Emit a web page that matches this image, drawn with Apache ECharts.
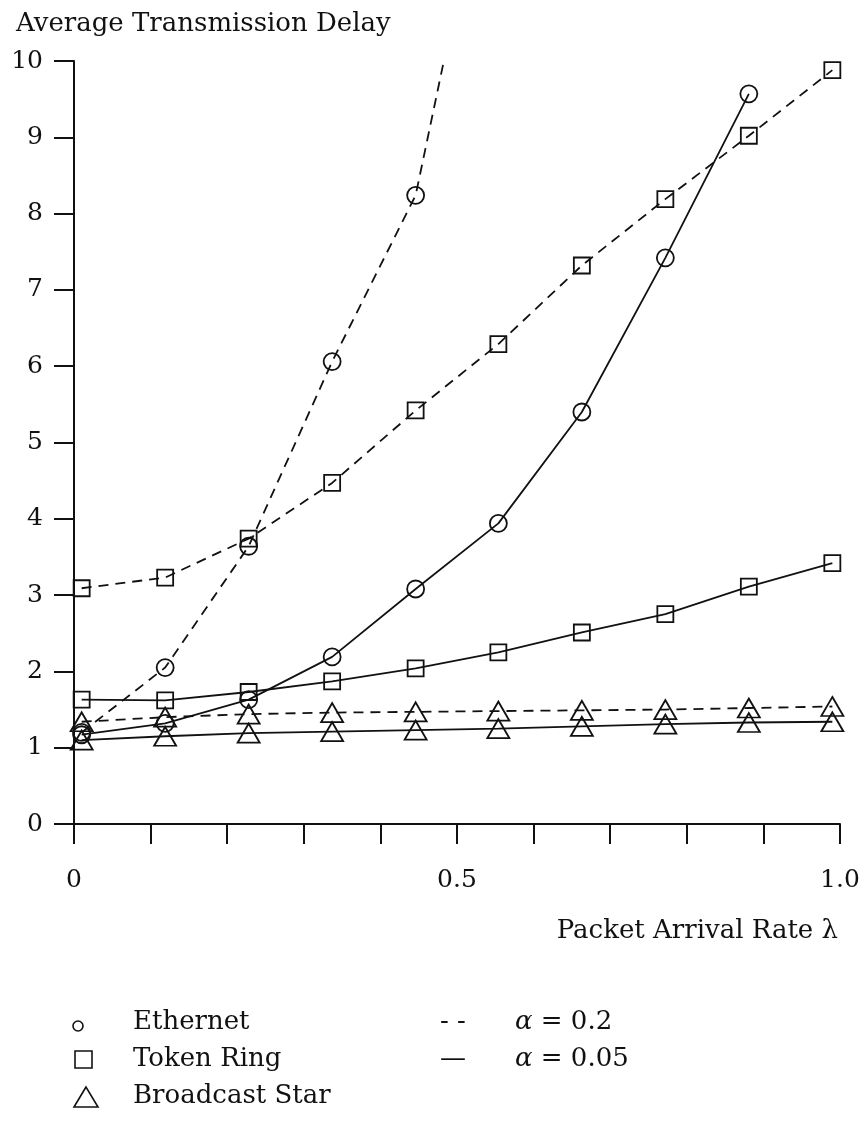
<!DOCTYPE html>
<html>
<head>
<meta charset="utf-8">
<script src="https://cdn.jsdelivr.net/npm/echarts@6/dist/echarts.min.js"></script>
<style>
  html, body { margin: 0; padding: 0; background: #fff; }
  #chart { width: 868px; height: 1121px; }
</style>
</head>
<body>
<div id="chart"></div>
<script>
// packet arrival rate (lambda) at each measured point
var lambdaVals = [0.01, 0.119, 0.228, 0.337, 0.446, 0.554, 0.663, 0.772, 0.881, 0.99];

// average transmission delay, alpha = 0.2 (dashed)
var ethernetA02 = [1.2, 2.05, 3.64, 6.06, 8.24, 13.4];
var tokenRingA02 = [3.09, 3.23, 3.74, 4.47, 5.42, 6.29, 7.32, 8.19, 9.02, 9.88];
var starA02 = [1.34, 1.40, 1.44, 1.46, 1.47, 1.48, 1.49, 1.50, 1.52, 1.54];

// alpha = 0.05 (solid)
var ethernetA005 = [1.17, 1.32, 1.63, 2.19, 3.08, 3.94, 5.40, 7.42, 9.57];
var tokenRingA005 = [1.63, 1.62, 1.73, 1.87, 2.04, 2.25, 2.51, 2.75, 3.11, 3.42];
var starA005 = [1.10, 1.15, 1.19, 1.21, 1.23, 1.25, 1.28, 1.31, 1.33, 1.34];

var xTickLabels = {'0': '0', '0.5': '0.5', '1': '1.0'};

var ink = '#111';
var serif = '"DejaVu Serif", "Liberation Serif", serif';

function pairs(ys) {
    var out = [];
    for (var i = 0; i < ys.length; i++) {
        out.push([lambdaVals[i], ys[i]]);
    }
    return out;
}

function makeSeries(name, ys, symbol, size, dashed) {
    return {
        name: name,
        type: 'line',
        data: pairs(ys),
        symbol: symbol,
        symbolSize: size,
        clip: true,
        itemStyle: { color: 'rgba(0,0,0,0)', borderColor: ink, borderWidth: 1.8 },
        lineStyle: { color: ink, width: 1.8, type: dashed ? [10, 7] : 'solid' },
        emphasis: { disabled: true }
    };
}

var chart = echarts.init(document.getElementById('chart'), null, { renderer: 'canvas' });

var option = {
    backgroundColor: '#fff',
    animation: false,
    grid: { left: 74, top: 61, right: 28, bottom: 297, containLabel: false },
    xAxis: {
        type: 'value',
        min: 0,
        max: 1,
        interval: 0.1,
        axisLine: { show: true, lineStyle: { color: ink, width: 2 } },
        axisTick: { show: true, length: 20, lineStyle: { color: ink, width: 2 } },
        splitLine: { show: false },
        axisLabel: {
            margin: 44,
            color: ink,
            fontFamily: serif,
            fontSize: 25,
            formatter: function (v) {
                var key = String(Math.round(v * 10) / 10);
                return xTickLabels[key] || '';
            }
        }
    },
    yAxis: {
        type: 'value',
        min: 0,
        max: 10,
        interval: 1,
        axisLine: { show: true, lineStyle: { color: ink, width: 2 } },
        axisTick: { show: true, length: 20, lineStyle: { color: ink, width: 2 } },
        splitLine: { show: false },
        axisLabel: { margin: 31, color: ink, fontFamily: serif, fontSize: 25 }
    },
    series: [
        makeSeries('Ethernet α=0.2', ethernetA02, 'circle', 17, true),
        makeSeries('Token Ring α=0.2', tokenRingA02, 'rect', 16, true),
        makeSeries('Broadcast Star α=0.2', starA02, 'triangle', [22, 19], true),
        makeSeries('Ethernet α=0.05', ethernetA005, 'circle', 17, false),
        makeSeries('Token Ring α=0.05', tokenRingA005, 'rect', 16, false),
        makeSeries('Broadcast Star α=0.05', starA005, 'triangle', [22, 19], false)
    ],
    graphic: [
        { type: 'text', x: 16, y: 24, style: { text: 'Average Transmission Delay', font: '26px ' + serif, fill: ink, textVerticalAlign: 'middle' } },
        { type: 'text', x: 838, y: 931, style: { text: 'Packet Arrival Rate λ', font: '26px ' + serif, fill: ink, textAlign: 'right', textVerticalAlign: 'middle' } },

        // key: marker shapes
        { type: 'circle', shape: { cx: 78, cy: 1026, r: 5 }, style: { fill: 'none', stroke: ink, lineWidth: 1.6 } },
        { type: 'rect', shape: { x: 75, y: 1051, width: 17, height: 17 }, style: { fill: 'none', stroke: ink, lineWidth: 1.6 } },
        { type: 'polygon', shape: { points: [[86, 1087], [74, 1107], [98, 1107]] }, style: { fill: 'none', stroke: ink, lineWidth: 1.6 } },
        { type: 'text', x: 133, y: 1022, style: { text: 'Ethernet', font: '26px ' + serif, fill: ink, textVerticalAlign: 'middle' } },
        { type: 'text', x: 133, y: 1059, style: { text: 'Token Ring', font: '26px ' + serif, fill: ink, textVerticalAlign: 'middle' } },
        { type: 'text', x: 133, y: 1096, style: { text: 'Broadcast Star', font: '26px ' + serif, fill: ink, textVerticalAlign: 'middle' } },

        // key: line styles
        { type: 'text', x: 440, y: 1022, style: { text: '- -', font: '26px ' + serif, fill: ink, textVerticalAlign: 'middle' } },
        { type: 'text', x: 440, y: 1059, style: { text: '—', font: '26px ' + serif, fill: ink, textVerticalAlign: 'middle' } },
        { type: 'text', x: 515, y: 1022, style: {
            text: '{a|α} = 0.2', font: '26px ' + serif, fill: ink, textVerticalAlign: 'middle',
            rich: { a: { fontStyle: 'italic', fontFamily: serif, fontSize: 26, fill: ink } }
        } },
        { type: 'text', x: 515, y: 1059, style: {
            text: '{a|α} = 0.05', font: '26px ' + serif, fill: ink, textVerticalAlign: 'middle',
            rich: { a: { fontStyle: 'italic', fontFamily: serif, fontSize: 26, fill: ink } }
        } }
    ]
};

chart.setOption(option);
</script>
</body>
</html>
